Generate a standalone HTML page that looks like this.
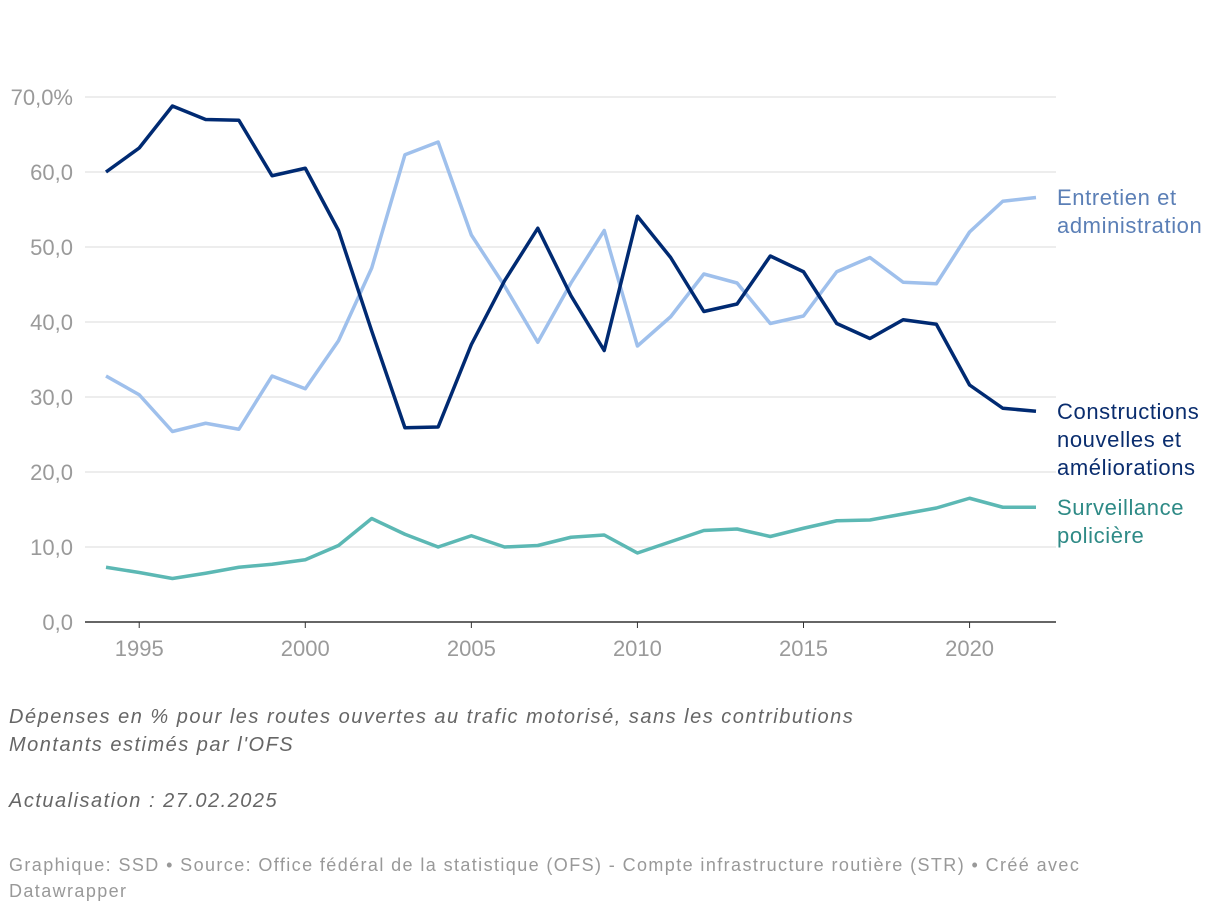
<!DOCTYPE html>
<html><head><meta charset="utf-8"><style>
body{margin:0;background:#fff;width:1220px;height:914px;overflow:hidden;font-family:"Liberation Sans",sans-serif}
svg text{font-family:"Liberation Sans",sans-serif}
.note{position:absolute;left:9px;font-size:20px;font-style:italic;color:#666;line-height:28px;letter-spacing:1.5px}
.foot{position:absolute;left:9px;top:852px;font-size:18px;color:#999;line-height:26px;width:1110px;letter-spacing:1.4px}
</style></head><body>
<svg width="1220" height="914" style="position:absolute;left:0;top:0">
<g id="grid"></g><g id="lines"></g><g id="labels"></g>
</svg>
<div class="note" style="top:703px">Dépenses en % pour les routes ouvertes au trafic motorisé, sans les contributions<br>Montants estimés par l'OFS</div>
<div class="note" style="top:787px">Actualisation : 27.02.2025</div>
<div class="foot">Graphique: SSD • Source: Office fédéral de la statistique (OFS) - Compte infrastructure routière (STR) • Créé avec Datawrapper</div>
<script>
const years=[1994,1995,1996,1997,1998,1999,2000,2001,2002,2003,2004,2005,2006,2007,2008,2009,2010,2011,2012,2013,2014,2015,2016,2017,2018,2019,2020,2021,2022];
const construction=[60,63.2,68.8,67,66.9,59.5,60.5,52.2,38.8,25.9,26,37,45.5,52.5,43.5,36.2,54.1,48.6,41.4,42.4,48.8,46.7,39.8,37.8,40.3,39.7,31.6,28.5,28.1];
const entretien=[32.8,30.3,25.4,26.5,25.7,32.8,31.1,37.5,47.2,62.3,64,51.6,44.8,37.3,45.2,52.2,36.8,40.7,46.4,45.2,39.8,40.8,46.7,48.6,45.3,45.1,52,56.1,56.6];
const police=[7.3,6.6,5.8,6.5,7.3,7.7,8.3,10.2,13.8,11.7,10,11.5,10,10.2,11.3,11.6,9.2,10.7,12.2,12.4,11.4,12.5,13.5,13.6,14.4,15.2,16.5,15.3,15.3];
const yTicks=[0,10,20,30,40,50,60,70];
const yTickLabels=["0,0","10,0","20,0","30,0","40,0","50,0","60,0","70,0%"];
const xTicks=[1995,2000,2005,2010,2015,2020];
const NS="http://www.w3.org/2000/svg";
const x=v=>106+(v-1994)*(930/28);
const y=v=>622-v*7.5;
function mk(t,a,p){const e=document.createElementNS(NS,t);for(const k in a)e.setAttribute(k,a[k]);p.appendChild(e);return e;}
const G=document.getElementById('grid'),L=document.getElementById('lines'),T=document.getElementById('labels');
yTicks.forEach((v,i)=>{
 const l=mk('line',{x1:85,x2:1056,y1:y(v),y2:y(v),stroke:v===0?'#333':'#e2e2e2','stroke-width':v===0?1.5:1.3},G);
 
 
 const t=mk('text',{x:73,y:y(v)+8,'font-size':22,fill:'#9a9a9a','text-anchor':'end'},T);t.textContent=yTickLabels[i];
 
 
});
xTicks.forEach(v=>{
 const k=mk('line',{x1:x(v),x2:x(v),y1:622,y2:628,stroke:'#333','stroke-width':1},G);
 
 
 const t=mk('text',{x:x(v),y:656,'font-size':22,fill:'#9a9a9a','text-anchor':'middle'},T);t.textContent=v;
 
 
});
function line(d,c,n){const p=mk('polyline',{points:d.map((v,i)=>x(years[i])+','+y(v)).join(' '),fill:'none',stroke:c,'stroke-width':3.5,'stroke-linejoin':'round'},L);
 
 }
line(entretien,'#9fc0ec','line-entretien');
line(police,'#5cb8b4','line-surveillance');
line(construction,'#002a72','line-constructions');
function lab(lines,top,c,n){const t=mk('text',{x:1057,y:top,'font-size':22,fill:c,'letter-spacing':0.6},T);
 
 
 lines.forEach((s,i)=>{const ts=mk('tspan',{x:1057,dy:i?28:0},t);ts.textContent=s;});}
lab(['Entretien et','administration'],205,'#5b7fb6','label-entretien');
lab(['Constructions','nouvelles et','améliorations'],419,'#0a2d6e','label-constructions');
lab(['Surveillance','policière'],515,'#2e8a86','label-surveillance');
</script>
</body></html>
